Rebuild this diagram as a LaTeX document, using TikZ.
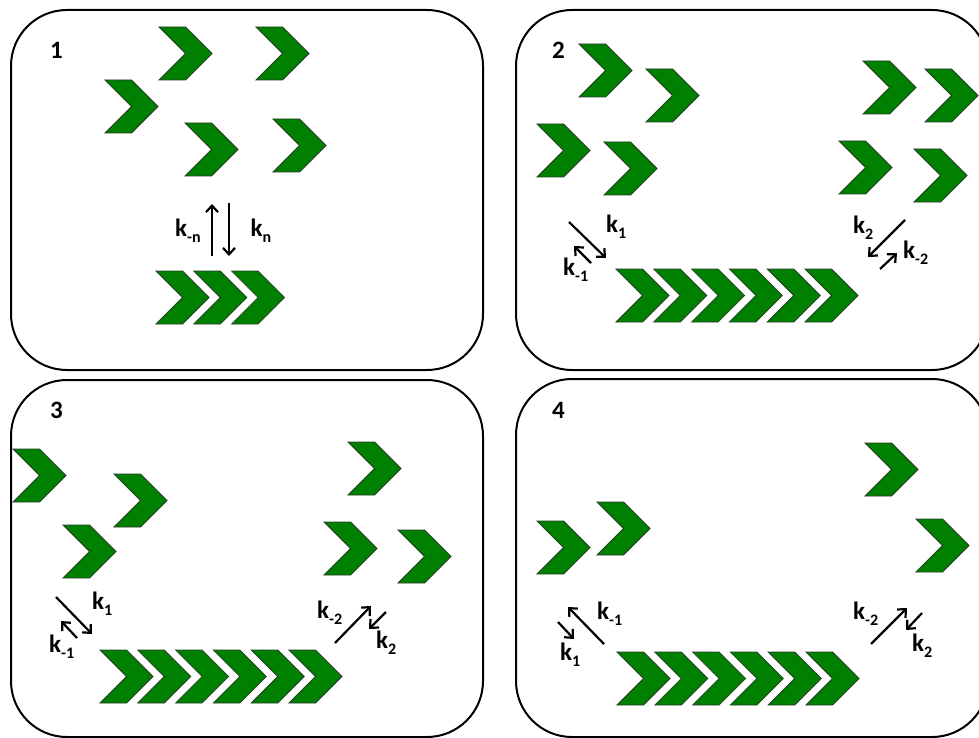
\documentclass[tikz,border=0pt]{standalone}
\usepackage{fontspec}
\setmainfont{Carlito}
\usetikzlibrary{arrows.meta}
\definecolor{chevgreen}{RGB}{0,128,0}
\definecolor{chevedge}{RGB}{40,60,40}
\newcommand\rate[2]{k\raisebox{-6.5pt}{\fontsize{16}{18}\selectfont #2}}
\tikzset{
  panel/.style={draw=black, line width=2pt, rounded corners=56pt},
  chev/.pic={\filldraw[fill=chevgreen, draw=chevedge, line width=0.8pt]
    (0,0) -- (26.5,0) -- (53,26.5) -- (26.5,53) -- (0,53) -- (26.5,26.5) -- cycle;},
  lbl/.style={anchor=base west, inner sep=0pt, font=\fontsize{25}{28}\selectfont\bfseries},
  rarrow/.style={line width=2.2pt, -{Straight Barb[length=6.5pt,width=12pt,line width=2.2pt]}}
}
\begin{document}
\begin{tikzpicture}[x=1pt,y=-1pt]
\clip (0,0) rectangle (979,738);
\fill[white] (0,0) rectangle (979,738);

% ---- four panels
\draw[panel] (11,10) rectangle (483,370);
\draw[panel] (516,10) rectangle (988,370);
\draw[panel] (11,380) rectangle (483,737);
\draw[panel] (516,379) rectangle (988,737);

% ---- panel 1: free monomers and a short nucleus
\node[lbl] (n1) at (50,59) {1};
\foreach \x/\y in {159/27, 256/27, 105/80, 185/123, 273/119}
  \pic at (\x,\y) {chev};
\foreach \i in {0,1,2}
  \pic at ({156+37.8*\i},271) {chev};
\coordinate (a1s) at (212,256); \coordinate (a1e) at (212,204);
\coordinate (b1s) at (229,203); \coordinate (b1e) at (229,256);
\draw[rarrow] (a1s) -- (a1e);
\draw[rarrow] (b1s) -- (b1e);
\node[lbl] (kmn) at (175,236) {\rate{}{-n}};
\node[lbl] (kn)  at (250.5,236) {\rate{}{n}};

% ---- panel 2: growth at both ends
\node[lbl] (n2) at (552,59) {2};
\foreach \x/\y in {579/44, 646/69, 537/124, 604/142, 863/61, 925/69, 839/141, 914/149}
  \pic at (\x,\y) {chev};
\foreach \i in {0,...,5}
  \pic at ({616+37.8*\i},269) {chev};
\coordinate (p2a) at (569,222); \coordinate (p2b) at (606,258);
\coordinate (p2c) at (591,263); \coordinate (p2d) at (574,246);
\coordinate (p2e) at (905,220); \coordinate (p2f) at (868,257);
\coordinate (p2g) at (880,269); \coordinate (p2h) at (897,253);
\draw[rarrow] (p2a) -- (p2b);
\draw[rarrow] (p2c) -- (p2d);
\draw[rarrow] (p2e) -- (p2f);
\draw[rarrow] (p2g) -- (p2h);
\node[lbl] (k1b)  at (606,232) {\rate{}{1}};
\node[lbl] (km1b) at (563,275) {\rate{}{-1}};
\node[lbl] (k2b)  at (853,233) {\rate{}{2}};
\node[lbl] (km2b) at (903,258) {\rate{}{-2}};

% ---- panel 3
\node[lbl] (n3) at (50,418) {3};
\foreach \x/\y in {13/449, 114/474, 63/525, 348/442, 324/522, 398/530}
  \pic at (\x,\y) {chev};
\foreach \i in {0,...,5}
  \pic at ({100+37.8*\i},650) {chev};
\coordinate (p3a) at (56,597); \coordinate (p3b) at (92,634);
\coordinate (p3c) at (77,638); \coordinate (p3d) at (61,621);
\coordinate (p3e) at (335,643); \coordinate (p3f) at (371,606);
\coordinate (p3g) at (386,612); \coordinate (p3h) at (369,629);
\draw[rarrow] (p3a) -- (p3b);
\draw[rarrow] (p3c) -- (p3d);
\draw[rarrow] (p3e) -- (p3f);
\draw[rarrow] (p3g) -- (p3h);
\node[lbl] (k1c)  at (92,609) {\rate{}{1}};
\node[lbl] (km1c) at (49,652) {\rate{}{-1}};
\node[lbl] (km2c) at (317,618) {\rate{}{-2}};
\node[lbl] (k2c)  at (376,648) {\rate{}{2}};

% ---- panel 4
\node[lbl] (n4) at (552,418) {4};
\foreach \x/\y in {537/521, 597/502, 865/443, 916/519}
  \pic at (\x,\y) {chev};
\foreach \i in {0,...,5}
  \pic at ({617+37.8*\i},652) {chev};
\coordinate (p4a) at (604,644); \coordinate (p4b) at (568,607);
\coordinate (p4c) at (558,622); \coordinate (p4d) at (574,639);
\coordinate (p4e) at (871,644); \coordinate (p4f) at (907,608);
\coordinate (p4g) at (922,613); \coordinate (p4h) at (906,630);
\draw[rarrow] (p4a) -- (p4b);
\draw[rarrow] (p4c) -- (p4d);
\draw[rarrow] (p4e) -- (p4f);
\draw[rarrow] (p4g) -- (p4h);
\node[lbl] (km1d) at (597,619) {\rate{}{-1}};
\node[lbl] (k1d)  at (560,660) {\rate{}{1}};
\node[lbl] (km2d) at (853,619) {\rate{}{-2}};
\node[lbl] (k2d)  at (912,651) {\rate{}{2}};
\end{tikzpicture}
\end{document}
